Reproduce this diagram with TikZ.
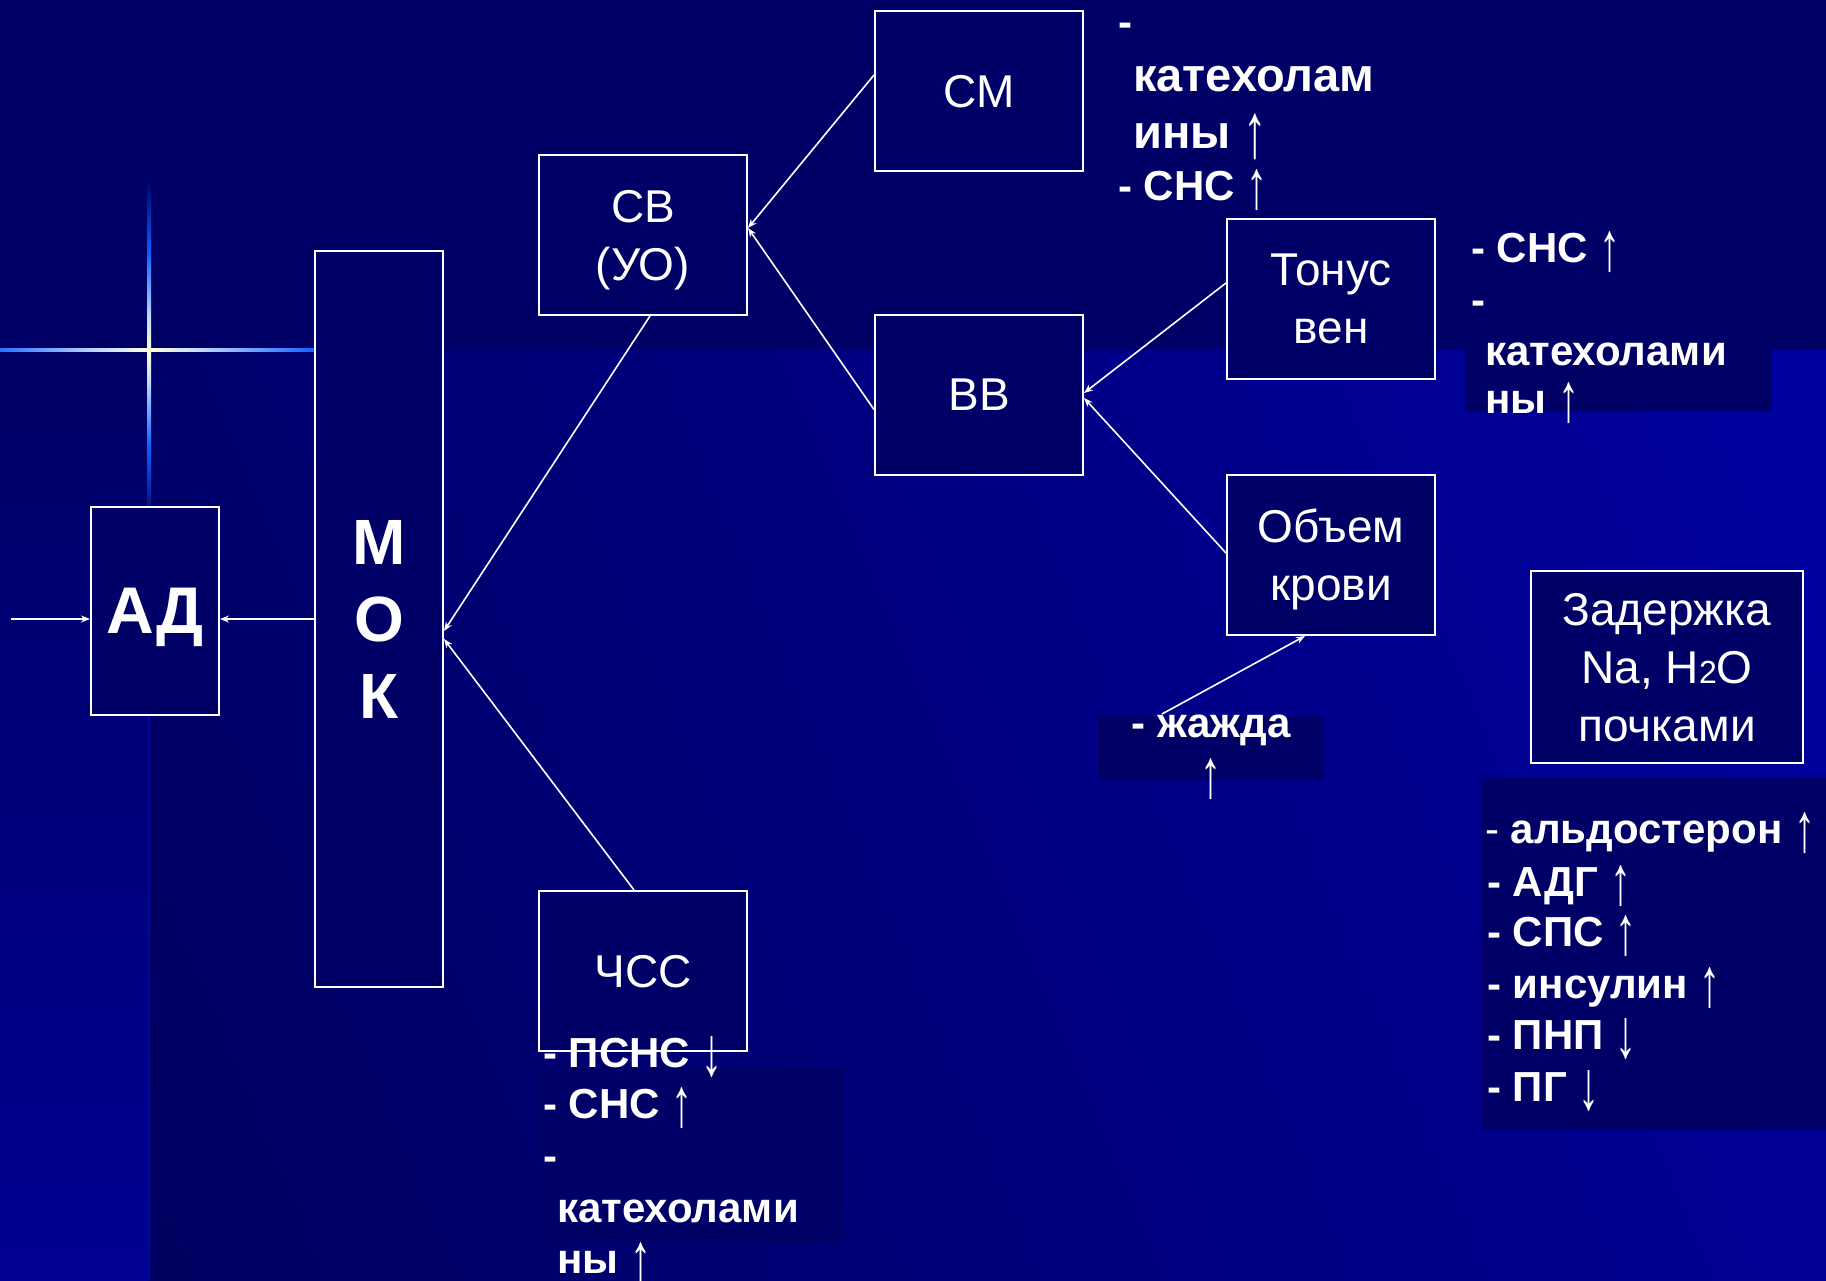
\documentclass[tikz,border=0pt]{standalone}
\usepackage{fontspec}
\setmainfont{Liberation Sans}
\usetikzlibrary{arrows.meta,shadings}
\definecolor{navy}{RGB}{0,0,102}
\definecolor{flareblue}{RGB}{16,96,255}
\definecolor{flarelight}{RGB}{190,215,255}
\definecolor{flarewhite}{RGB}{255,255,215}
\definecolor{ulc}{RGB}{0,0,108}
\definecolor{urc}{RGB}{0,0,160}
\definecolor{llc}{RGB}{0,0,96}
\definecolor{lrc}{RGB}{0,0,148}
\definecolor{stripbot}{RGB}{0,0,146}
\definecolor{seam}{RGB}{0,10,160}
\pgfdeclarehorizontalshading{flareh}{100bp}{color(0bp)=(flareblue); color(25bp)=(flareblue); color(42bp)=(flarelight); color(50bp)=(flarewhite); color(58bp)=(flarelight); color(75bp)=(flareblue); color(100bp)=(flareblue)}
\pgfdeclareverticalshading{flarev}{100bp}{color(0bp)=(navy); color(25bp)=(navy); color(36bp)=(flareblue); color(45bp)=(flarelight); color(50bp)=(flarewhite); color(55bp)=(flarelight); color(64bp)=(flareblue); color(75bp)=(navy); color(100bp)=(navy)}
\newcommand\arrup{{\mdseries\raisebox{-0.21em}{\scalebox{1}[1.65]{↑}}}}
\newcommand\arrdn{{\mdseries\raisebox{-0.21em}{\scalebox{1}[1.65]{↓}}}}
\begin{document}
\begin{tikzpicture}[x=1pt,y=-1pt,
  box/.style={draw=white, line width=2pt, fill=navy, text=white, inner sep=0pt, align=center, text depth=0pt, font=\fontsize{46}{58}\selectfont},
  lab/.style={text=white, inner sep=0pt, anchor=base west, font=\bfseries\fontsize{42}{50}\selectfont},
  bigl/.style={lab, font=\bfseries\fontsize{47}{50}\selectfont},
  conn/.style={draw=white, line width=1.6pt, -{Stealth[length=9pt,width=7pt]}},
]
\useasboundingbox (0,0) rectangle (1826,1280);
% background
\fill[navy] (0,0) rectangle (1826,350);
\shade[upper left=ulc, upper right=urc, lower left=llc, lower right=lrc] (149,350) rectangle (1826,1280);
\shade[top color=navy, bottom color=stripbot] (0,350) rectangle (149,1280);
\draw[seam, line width=2.5pt] (149,350) -- (442,350);
\draw[seam, line width=2pt] (149,510) -- (149,1280);
\shade[shading=flareh] (-17,348.5) rectangle (315,351.5);
\shade[shading=flarev] (147,180) rectangle (151,520);
% text backgrounds
\fill[navy] (1466,230) rectangle (1772,412);
\fill[navy] (539,1068) rectangle (844,1244);
\fill[navy] (1481,778) rectangle (1826,1130);
\fill[navy] (1098,715) rectangle (1324,780);
% boxes
\node[box, minimum width=128pt, minimum height=208pt, font=\bfseries\fontsize{66}{70}\selectfont] (ad) at (155,611) {АД};
\node[box, minimum width=128pt, minimum height=736pt, font=\bfseries\fontsize{64}{77}\selectfont] (mok) at (379,619) {М\\О\\К};
\node[box, minimum width=208pt, minimum height=160pt] (cb) at (643,235) {СВ\\(УО)};
\node[box, minimum width=208pt, minimum height=160pt] (cm) at (979,91) {СМ};
\node[box, minimum width=208pt, minimum height=160pt] (bb) at (979,394.5) {ВВ};
\node[box, minimum width=208pt, minimum height=160pt] (ton) at (1331,299) {Тонус\\вен};
\node[box, minimum width=208pt, minimum height=160pt] (vol) at (1331,555) {Объем\\крови};
\node[box, minimum width=272pt, minimum height=192pt] (zad) at (1667,667) {Задержка\\Na, H{\fontsize{32}{32}\selectfont 2}O\\почками};
\node[box, minimum width=208pt, minimum height=160pt] (hr) at (643,971) {ЧСС};
% labels
\node[lab] (t1a) at (1118,36) {-};
\node[bigl] (t1b) at (1133,91) {катехолам};
\node[bigl] (t1c) at (1133,148) {ины \arrup};
\node[lab] (t1d) at (1118,200) {- СНС \arrup};
\node[lab] (t2a) at (1471,262) {- СНС \arrup};
\node[lab] (t2b) at (1471,314) {-};
\node[lab] (t2c) at (1485,365) {катехолами};
\node[lab] (t2d) at (1485,413) {ны \arrup};
\node[lab] (t3a) at (543,1067) {- ПСНС \arrdn};
\node[lab] (t3b) at (543,1118) {- СНС \arrup};
\node[lab] (t3c) at (543,1170) {-};
\node[lab] (t3d) at (557,1222) {катехолами};
\node[lab] (t3e) at (557,1273) {ны \arrup};
\node[lab] (t4a) at (1485,843) {{\mdseries -} альдостерон \arrup};
\node[lab] (t4b) at (1487,896) {- АДГ \arrup};
\node[lab] (t4c) at (1487,946) {- СПС \arrup};
\node[lab] (t4d) at (1487,998) {- инсулин \arrup};
\node[lab] (t4e) at (1487,1049) {- ПНП \arrdn};
\node[lab] (t4f) at (1487,1101) {- ПГ \arrdn};
\node[lab, anchor=base] (zh1) at (1211,737) {- жажда};
\node[lab, anchor=base] (zh2) at (1211,789) {\arrup};
% connectors
\coordinate (inp) at (11,619);
\coordinate (zhs) at (1162,714);
\draw[conn] (inp) -- ([yshift=-8pt]ad.west);
\draw[conn] (mok.west) -- ([yshift=-8pt]ad.east);
\draw[conn] ([xshift=7pt]cb.south) -- ([yshift=-12pt]mok.east);
\draw[conn] ([xshift=-9pt]hr.north) -- ([yshift=-20pt]mok.east);
\draw[conn] ([yshift=16pt]cm.west) -- ([yshift=7pt]cb.east);
\draw[conn] ([yshift=-15pt]bb.west) -- ([yshift=7pt]cb.east);
\draw[conn] ([yshift=16pt]ton.west) -- ([yshift=1.5pt]bb.east);
\draw[conn] ([yshift=2pt]vol.west) -- ([yshift=-3.5pt]bb.east);
\draw[conn] (zhs) -- ([xshift=-26pt]vol.south);
\end{tikzpicture}
\end{document}
